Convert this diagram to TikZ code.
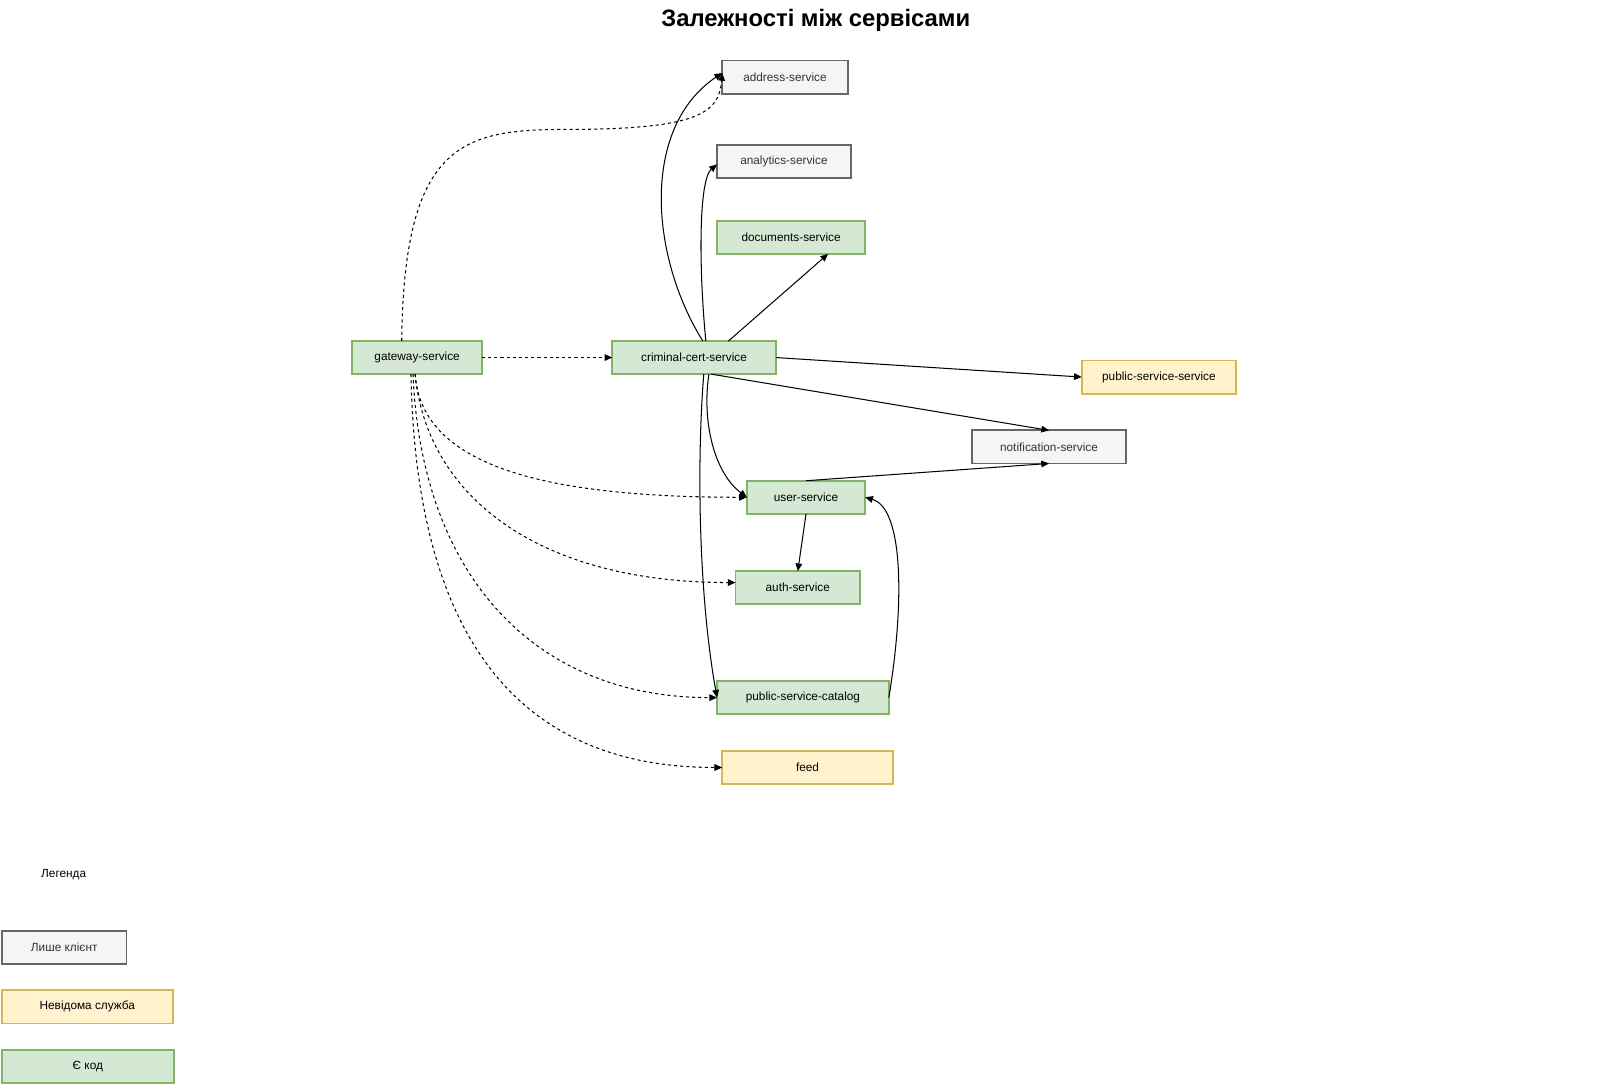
\documentclass[tikz,border=0pt]{standalone}
\usepackage{fontspec}
\setmainfont{Liberation Sans}
\usetikzlibrary{arrows.meta}
\definecolor{clientfill}{HTML}{F5F5F5}
\definecolor{clientdraw}{HTML}{666666}
\definecolor{clienttext}{HTML}{333333}
\definecolor{unkfill}{HTML}{FFF2CC}
\definecolor{unkdraw}{HTML}{D6B656}
\definecolor{codefill}{HTML}{D5E8D4}
\definecolor{codedraw}{HTML}{82B366}
\begin{document}
\begin{tikzpicture}[x=1pt,y=-1pt,line width=1pt,
  box/.style={draw,line width=1.8pt,minimum height=32.2pt,inner sep=0pt,outer sep=0pt,font=\fontsize{11.5}{14}\selectfont},
  client/.style={box,draw=clientdraw,fill=clientfill,text=clienttext},
  unknown/.style={box,draw=unkdraw,fill=unkfill},
  hascode/.style={box,draw=codedraw,fill=codefill},
  dep/.style={-{Triangle[length=7.5pt,width=6.5pt]}},
  gwdep/.style={dep,dash pattern=on 3pt off 3pt}]
\path[use as bounding box] (0,0) rectangle (1568,1056);
\node (title) at (794,19.5) {\bfseries\fontsize{23.2}{27}\selectfont Залежності між сервісами};
% services
\node[client,minimum width=122.2pt] (address) at (764,75) {address-service};
\node[client,minimum width=130.2pt] (analytics) at (763,157) {analytics-service};
\node[hascode,minimum width=144.2pt] (documents) at (770,231) {documents-service};
\node[hascode,minimum width=126.2pt] (gateway) at (406,348) {gateway-service};
\node[hascode,minimum width=159.2pt] (criminal) at (675.5,348) {criminal-cert-service};
\node[unknown,minimum width=150.2pt] (pss) at (1128,367) {public-service-service};
\node[client,minimum width=150.2pt] (notification) at (1021,435) {notification-service};
\node[hascode,minimum width=115.2pt] (user) at (784.5,484) {user-service};
\node[hascode,minimum width=121.2pt] (auth) at (776.5,572) {auth-service};
\node[hascode,minimum width=167.2pt] (catalog) at (781.5,679) {public-service-catalog};
\node[unknown,minimum width=166.2pt] (feed) at (786,747) {feed};
% legend
\node[font=\fontsize{11.5}{14}\selectfont] (legend) at (62,851) {Легенда};
\node[client,minimum width=121.2pt] (lclient) at (62.5,922) {Лише клієнт};
\node[unknown,minimum width=166.2pt] (lunknown) at (85,980) {Невідома служба};
\node[hascode,minimum width=167.2pt] (lcode) at (85.5,1038) {Є код};
% calls from criminal-cert-service
\draw[dep] ([xshift=8.5pt]criminal.north) .. controls (633,250) and (623,125) .. ([yshift=4pt]address.west);
\draw[dep] ([xshift=11.5pt]criminal.north) .. controls (680,260) and (680,175) .. ([yshift=-3pt]analytics.west);
\draw[dep] ([xshift=33.5pt]criminal.north) -- ([xshift=36pt]documents.south);
\draw[dep] (criminal.east) -- (pss.west);
\draw[dep] ([xshift=16.5pt]criminal.south) -- (notification.north);
\draw[dep] ([xshift=14.5pt]criminal.south) .. controls (683,410) and (695,460) .. (user.west);
\draw[dep] ([xshift=9.5pt]criminal.south) .. controls (678,450) and (680,580) .. (catalog.west);
\draw[dep] (user.north) -- (notification.south);
\draw[dep] (user.south) -- (auth.north);
\draw[dep] (catalog.east) .. controls (880,590) and (880,495) .. (user.east);
% calls from gateway-service
\draw[gwdep] (gateway.east) -- (criminal.west);
\draw[gwdep] ([xshift=-15pt]gateway.north) .. controls (393,140) and (450,126) .. (550,126) .. controls (680,126) and (700,110) .. ([yshift=4pt]address.west);
\draw[gwdep] ([xshift=-2pt]gateway.south) .. controls (410,450) and (520,484) .. (user.west);
\draw[gwdep] ([xshift=-2pt]gateway.south) .. controls (415,480) and (520,567) .. ([yshift=5pt]auth.west);
\draw[gwdep] ([xshift=-4pt]gateway.south) .. controls (410,560) and (520,679) .. (catalog.west);
\draw[gwdep] ([xshift=-6pt]gateway.south) .. controls (405,640) and (520,747) .. (feed.west);
\end{tikzpicture}
\end{document}
